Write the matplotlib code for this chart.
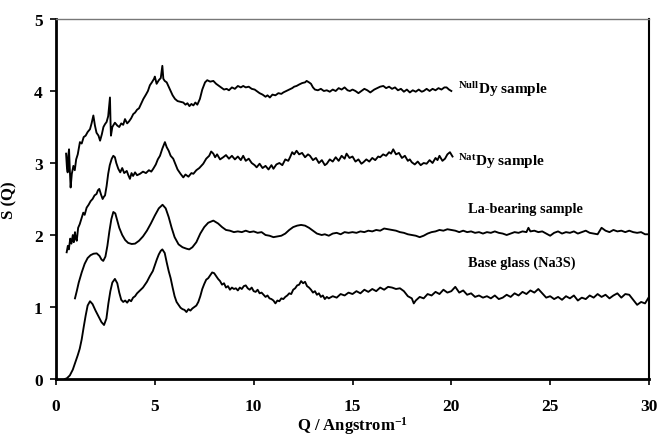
import matplotlib
matplotlib.use("Agg")
import matplotlib.pyplot as plt

plt.rcParams['font.family'] = ['Liberation Serif', 'DejaVu Serif']
plt.rcParams['font.weight'] = 'bold'
plt.rcParams['mathtext.fontset'] = 'custom'
plt.rcParams['mathtext.rm'] = 'Liberation Serif:bold'
plt.rcParams['mathtext.bf'] = 'Liberation Serif:bold'
plt.rcParams['mathtext.it'] = 'Liberation Serif:bold'

# ---------------- data ----------------
base_q = [0.45, 0.55, 0.7, 0.85, 1.0, 1.1, 1.2, 1.3, 1.4, 1.5, 1.6, 1.72, 1.85, 2.0, 2.15, 2.3, 2.43,
          2.55, 2.65, 2.75, 2.85, 2.98, 3.1, 3.2, 3.3, 3.4, 3.5, 3.6, 3.7, 3.8, 3.9, 4.0, 4.1, 4.25,
          4.4, 4.5, 4.6, 4.75, 4.9, 5.0, 5.1, 5.2, 5.3, 5.38, 5.5, 5.6, 5.7, 5.8, 5.9, 6.0, 6.1, 6.2,
          6.3, 6.4, 6.5, 6.6, 6.7, 6.8, 6.9, 7.0, 7.1, 7.2, 7.3, 7.4, 7.5, 7.6, 7.7, 7.8, 7.9, 8.0,
          8.1, 8.2, 8.3, 8.4, 8.5, 8.6, 8.7, 8.8, 8.9, 9.0, 9.1, 9.2, 9.3, 9.4, 9.5, 9.6, 9.7, 9.8,
          9.9, 10.0, 10.1, 10.2, 10.3, 10.4, 10.5, 10.6, 10.7, 10.8, 10.9, 11.0, 11.1, 11.2, 11.3,
          11.4, 11.5, 11.6, 11.7, 11.8, 11.9, 12.0, 12.1, 12.2, 12.3, 12.4, 12.5, 12.6, 12.7, 12.8,
          12.9, 13.0, 13.1, 13.2, 13.3, 13.4, 13.5, 13.6, 13.7, 13.8, 14.0, 14.2, 14.4, 14.6, 14.8,
          15.0, 15.2, 15.4, 15.6, 15.8, 16.0, 16.2, 16.4, 16.6, 16.8, 17.0, 17.2, 17.4, 17.6, 17.8,
          18.0, 18.1, 18.2, 18.4, 18.6, 18.8, 19.0, 19.2, 19.4, 19.6, 19.8, 20.0, 20.2, 20.4, 20.6,
          20.8, 21.0, 21.2, 21.4, 21.6, 21.8, 22.0, 22.2, 22.4, 22.6, 22.8, 23.0, 23.2, 23.4, 23.6,
          23.8, 24.0, 24.2, 24.4, 24.6, 24.8, 25.0, 25.2, 25.4, 25.6, 25.8, 26.0, 26.2, 26.4, 26.6,
          26.8, 27.0, 27.2, 27.4, 27.6, 27.8, 28.0, 28.2, 28.4, 28.6, 28.8, 29.0, 29.2, 29.4, 29.6,
          29.8, 30.0]
base_s = [0.0, 0.01, 0.05, 0.13, 0.25, 0.33, 0.42, 0.55, 0.72, 0.88, 1.02, 1.08, 1.04, 0.95, 0.87, 0.79, 0.75,
          0.84, 1.05, 1.22, 1.34, 1.39, 1.33, 1.2, 1.1, 1.07, 1.09, 1.06, 1.1, 1.08, 1.13, 1.15, 1.19, 1.23,
          1.27, 1.31, 1.35, 1.43, 1.5, 1.58, 1.66, 1.73, 1.78, 1.80, 1.75, 1.62, 1.5, 1.4, 1.27, 1.15, 1.07, 1.03,
          0.99, 0.97, 0.96, 0.93, 0.97, 0.95, 0.98, 1.0, 1.02, 1.07, 1.15, 1.25, 1.32, 1.38, 1.40, 1.44, 1.48, 1.47,
          1.43, 1.39, 1.36, 1.31, 1.33, 1.27, 1.29, 1.24, 1.27, 1.25, 1.26, 1.23, 1.27, 1.25, 1.29, 1.30, 1.26, 1.24,
          1.27, 1.22, 1.21, 1.24, 1.19, 1.2, 1.17, 1.14, 1.16, 1.12, 1.11, 1.09, 1.05, 1.09, 1.08,
          1.12, 1.11, 1.14, 1.16, 1.19, 1.18, 1.24, 1.26, 1.3, 1.31, 1.36, 1.33, 1.35, 1.29, 1.27,
          1.24, 1.2, 1.22, 1.17, 1.19, 1.14, 1.16, 1.11, 1.14, 1.12, 1.15, 1.13, 1.18, 1.16, 1.2,
          1.18, 1.22, 1.19, 1.24, 1.21, 1.25, 1.22, 1.27, 1.24, 1.28, 1.27, 1.25, 1.26, 1.22, 1.15,
          1.12, 1.05, 1.09, 1.14, 1.12, 1.18, 1.16, 1.21, 1.18, 1.24, 1.2, 1.22, 1.28, 1.2, 1.23,
          1.17, 1.19, 1.14, 1.16, 1.13, 1.15, 1.12, 1.16, 1.11, 1.13, 1.17, 1.14, 1.19, 1.16, 1.21,
          1.18, 1.23, 1.2, 1.25, 1.19, 1.13, 1.15, 1.11, 1.14, 1.1, 1.15, 1.12, 1.16, 1.09, 1.13,
          1.11, 1.16, 1.13, 1.18, 1.14, 1.17, 1.12, 1.16, 1.19, 1.13, 1.18, 1.17, 1.1, 1.03, 1.07,
          1.05, 1.14]

la_q = [0.96, 1.05, 1.15, 1.3, 1.45, 1.6, 1.75, 1.9, 2.06, 2.2, 2.3, 2.39, 2.5, 2.6, 2.7, 2.8, 2.9, 3.0,
        3.1, 3.2, 3.35, 3.5, 3.65, 3.83, 4.0, 4.2, 4.4, 4.6, 4.8, 5.0, 5.2, 5.39, 5.55, 5.7, 5.85, 6.0,
        6.2, 6.4, 6.6, 6.74, 6.9, 7.1, 7.3, 7.5, 7.7, 7.96, 8.2, 8.4, 8.6, 8.8, 9.0, 9.2, 9.4, 9.6, 9.8,
        10.0, 10.2, 10.4, 10.6, 10.8, 11.0, 11.2, 11.4, 11.6, 11.8, 12.0, 12.2, 12.4, 12.6, 12.8, 13.0,
        13.2, 13.44, 13.6, 13.8, 14.0, 14.2, 14.4, 14.6, 14.8, 15.0, 15.2, 15.4, 15.6, 15.8, 16.0, 16.2,
        16.4, 16.6, 16.8, 17.0, 17.2, 17.4, 17.6, 17.8, 18.0, 18.2, 18.4, 18.6, 18.8, 19.0, 19.2, 19.4,
        19.6, 19.8, 20.0, 20.2, 20.4, 20.6, 20.8, 21.0, 21.2, 21.4, 21.6, 21.8, 22.0, 22.2, 22.4, 22.6,
        22.8, 23.0, 23.2, 23.4, 23.6, 23.8, 23.9, 24.0, 24.2, 24.4, 24.6, 24.8, 25.0, 25.2, 25.4, 25.6,
        25.8, 26.0, 26.2, 26.4, 26.6, 26.8, 27.0, 27.2, 27.4, 27.6, 27.8, 28.0, 28.2, 28.4, 28.6, 28.8,
        29.0, 29.2, 29.4, 29.6, 29.8, 30.0]
la_s = [1.12, 1.22, 1.34, 1.48, 1.6, 1.68, 1.72, 1.74, 1.745, 1.71, 1.66, 1.64, 1.7, 1.85, 2.05, 2.22, 2.32, 2.3,
        2.2, 2.1, 2.0, 1.93, 1.89, 1.875, 1.88, 1.92, 1.98, 2.06, 2.16, 2.27, 2.37, 2.42, 2.37, 2.25, 2.1, 1.97,
        1.87, 1.83, 1.81, 1.80, 1.83, 1.9, 2.02, 2.11, 2.17, 2.2, 2.16, 2.11, 2.07, 2.06, 2.04, 2.05, 2.04, 2.06, 2.04,
        2.05, 2.03, 2.04, 2.0, 1.99, 1.97, 1.98, 1.99, 2.02, 2.07, 2.11, 2.13, 2.14, 2.13, 2.1, 2.06,
        2.02, 2.0, 2.01, 1.99, 2.02, 2.03, 2.01, 2.04, 2.03, 2.04, 2.03, 2.05, 2.04, 2.06, 2.05, 2.07,
        2.06, 2.09, 2.08, 2.07, 2.06, 2.04, 2.03, 2.01, 2.0, 1.99, 1.97, 1.99, 2.02, 2.04, 2.05, 2.07,
        2.06, 2.08, 2.07, 2.06, 2.04, 2.06, 2.04, 2.05, 2.03, 2.04, 2.02, 2.04, 2.03, 2.05, 2.03, 2.02,
        2.0, 2.02, 2.04, 2.03, 2.05, 2.04, 2.1, 2.05, 2.06, 2.04, 2.05, 2.02, 1.99, 2.03, 2.05, 2.02,
        2.04, 2.03, 2.05, 2.02, 2.04, 2.06, 2.03, 2.02, 2.01, 2.1, 2.06, 2.04, 2.07, 2.05, 2.06, 2.04,
        2.06, 2.04, 2.03, 2.04, 2.01, 2.01]

nat_q = [0.54, 0.6, 0.65, 0.72, 0.78, 0.85, 0.9, 0.96, 1.0, 1.05, 1.12, 1.2, 1.28, 1.38, 1.45, 1.55, 1.65,
         1.75, 1.85, 1.95, 2.05, 2.12, 2.19, 2.28, 2.36, 2.42, 2.48, 2.56, 2.64, 2.72, 2.82, 2.9, 2.98,
         3.05, 3.15, 3.25, 3.35, 3.45, 3.58, 3.66, 3.74, 3.82, 3.9, 4.0, 4.1, 4.25, 4.4, 4.55, 4.7, 4.82,
         4.92, 5.05, 5.15, 5.26, 5.38, 5.51, 5.6, 5.7, 5.8, 5.93, 6.05, 6.15, 6.3, 6.44, 6.55, 6.7, 6.85,
         6.95, 7.1, 7.25, 7.45, 7.6, 7.75, 7.85, 7.96, 8.05, 8.15, 8.3, 8.46, 8.6, 8.75, 8.9, 9.05, 9.2,
         9.35, 9.47, 9.6, 9.75, 9.9, 10.05, 10.15, 10.3, 10.45, 10.6, 10.75, 10.9, 11.0, 11.15, 11.3,
         11.45, 11.6, 11.75, 11.84, 11.95, 12.05, 12.17, 12.3, 12.45, 12.6, 12.75, 12.85, 13.0, 13.15,
         13.3, 13.45, 13.6, 13.7, 13.85, 14.0, 14.15, 14.3, 14.45, 14.6, 14.7, 14.85, 15.0, 15.15, 15.3,
         15.45, 15.55, 15.7, 15.85, 16.0, 16.15, 16.3, 16.4, 16.55, 16.7, 16.85, 16.95, 17.06, 17.2,
         17.35, 17.5, 17.65, 17.8, 17.9, 18.0, 18.15, 18.3, 18.45, 18.6, 18.75, 18.9, 19.05, 19.2, 19.3,
         19.4, 19.55, 19.68, 19.8, 19.93, 20.06]
nat_s = [1.76, 1.85, 1.8, 1.95, 1.88, 2.0, 1.9, 2.04, 1.95, 1.92, 2.1, 2.15, 2.22, 2.31, 2.28, 2.38, 2.42,
         2.47, 2.5, 2.55, 2.57, 2.62, 2.64, 2.56, 2.5, 2.53, 2.55, 2.68, 2.85, 2.97, 3.06, 3.1, 3.08,
         3.0, 2.92, 2.87, 2.93, 2.86, 2.89, 2.83, 2.78, 2.86, 2.82, 2.87, 2.83, 2.85, 2.88, 2.86, 2.9, 2.88,
         2.92, 2.98, 3.05, 3.1, 3.2, 3.29, 3.22, 3.17, 3.1, 3.06, 2.98, 2.91, 2.85, 2.8, 2.84, 2.81, 2.86,
         2.85, 2.9, 2.93, 2.99, 3.06, 3.1, 3.16, 3.13, 3.08, 3.12, 3.05, 3.08, 3.11, 3.06, 3.1, 3.05, 3.09,
         3.04, 3.1, 3.03, 3.06, 3.0, 2.97, 2.94, 2.99, 2.93, 2.96, 2.91, 2.97, 2.92, 2.98, 3.0,
         2.97, 3.05, 3.03, 3.08, 3.15, 3.12, 3.17, 3.12, 3.14, 3.08, 3.12, 3.1, 3.04, 3.07,
         3.0, 3.04, 2.97, 2.99, 3.05, 3.02, 3.08, 3.03, 3.1, 3.06, 3.13, 3.07, 3.09, 3.02, 3.05,
         2.99, 3.01, 3.05, 3.02, 3.07, 3.04, 3.09, 3.08, 3.12, 3.1, 3.15, 3.13, 3.19, 3.12,
         3.14, 3.07, 3.1, 3.03, 3.05, 3.01, 2.98, 3.02, 2.97, 3.0, 2.99, 3.04, 3.0, 3.07, 3.04,
         3.10, 3.03, 3.06, 3.12, 3.15, 3.09]

null_q = [0.51, 0.55, 0.59, 0.62, 0.66, 0.7, 0.74, 0.8, 0.88, 0.95, 1.02, 1.1, 1.21, 1.3, 1.4, 1.5, 1.6,
          1.72, 1.8, 1.89, 1.97, 2.05, 2.15, 2.23, 2.32, 2.4, 2.48, 2.56, 2.64, 2.7, 2.73, 2.76, 2.78,
          2.85, 2.98, 3.1, 3.2, 3.3, 3.4, 3.49, 3.6, 3.7, 3.8, 3.91, 4.0, 4.1, 4.2, 4.3, 4.42, 4.55,
          4.65, 4.75, 4.85, 4.96, 5.0, 5.09, 5.2, 5.3, 5.38, 5.43, 5.5, 5.6, 5.7, 5.8, 5.9, 6.02, 6.15,
          6.3, 6.44, 6.55, 6.65, 6.75, 6.85, 6.95, 7.05, 7.15, 7.28, 7.4, 7.54, 7.65, 7.8, 7.96, 8.1,
          8.2, 8.35, 8.5, 8.63, 8.75, 8.9, 9.05, 9.2, 9.35, 9.47, 9.6, 9.75, 9.9, 10.05, 10.15, 10.3,
          10.45, 10.6, 10.7, 10.82, 10.95, 11.1, 11.25, 11.4, 11.5, 11.65, 11.8, 11.95, 12.05, 12.17,
          12.3, 12.45, 12.6, 12.68, 12.8, 12.9, 13.0, 13.1, 13.25, 13.4, 13.55, 13.7, 13.85, 14.0,
          14.15, 14.3, 14.45, 14.6, 14.75, 14.87, 15.0, 15.15, 15.3, 15.45, 15.6, 15.75, 15.9, 16.1,
          16.25, 16.4, 16.56, 16.7, 16.85, 17.0, 17.15, 17.3, 17.45, 17.6, 17.75, 17.9, 18.05, 18.2,
          18.35, 18.5, 18.6, 18.75, 18.9, 19.05, 19.2, 19.35, 19.5, 19.65, 19.76, 19.88, 20.0]
null_s = [3.13, 2.95, 2.87, 3.1, 3.19, 2.9, 2.66, 2.85, 2.96, 2.9, 3.05, 3.12, 3.29, 3.27, 3.36, 3.38, 3.43,
          3.47, 3.55, 3.66, 3.52, 3.42, 3.38, 3.31, 3.4, 3.5, 3.54, 3.57, 3.65, 3.82, 3.91, 3.55, 3.38,
          3.5, 3.56, 3.52, 3.5, 3.55, 3.53, 3.61, 3.55, 3.58, 3.62, 3.68, 3.7, 3.74, 3.76, 3.82, 3.89, 3.95,
          4.0, 4.08, 4.12, 4.17, 4.2, 4.1, 4.15, 4.18, 4.35, 4.17, 4.14, 4.12, 4.06, 4.0, 3.94, 3.89, 3.86,
          3.85, 3.84, 3.81, 3.83, 3.79, 3.82, 3.8, 3.84, 3.81, 3.89, 4.02, 4.12, 4.15, 4.13, 4.14, 4.1,
          4.08, 4.05, 4.02, 4.03, 4.01, 4.05, 4.03, 4.07, 4.05, 4.07, 4.05, 4.06, 4.03, 4.02, 4.0, 3.97,
          3.95, 3.92, 3.94, 3.91, 3.95, 3.94, 3.97, 3.96, 3.98, 4.0, 4.02, 4.04, 4.06, 4.07,
          4.09, 4.11, 4.12, 4.14, 4.12, 4.1, 4.05, 4.02, 4.01, 4.03, 4.0, 4.01, 3.99, 4.02,
          4.0, 4.04, 4.02, 4.05, 4.01, 4.0, 4.02, 4.0, 3.97, 4.0, 4.03, 4.01, 3.98, 4.02,
          4.04, 4.06, 4.07, 4.04, 4.06, 4.03, 4.05, 4.01, 4.03, 3.99, 4.02, 3.98, 4.01, 3.99,
          4.02, 3.99, 4.0, 4.03, 4.0, 4.03, 4.01, 4.04, 4.02, 4.05, 4.05, 4.02, 4.0]

x_ticks = [0, 5, 10, 15, 20, 25, 30]
y_ticks = [0, 1, 2, 3, 4, 5]

# ---------------- figure ----------------
fig = plt.figure(figsize=(6.6, 4.39), dpi=100)
ax = fig.add_axes([56 / 660, 1 - 380 / 439, (649 - 56) / 660, 360 / 439])

for q, s in [(base_q, base_s), (la_q, la_s), (nat_q, nat_s), (null_q, null_s)]:
    ax.plot(q, s, color='black', lw=1.35)

ax.set_xlim(0, 30)
ax.set_ylim(0, 5)
ax.set_xticks(x_ticks)
ax.set_yticks(y_ticks)
ax.tick_params(direction='out', length=4.5, width=1.2, labelsize=12.5)
ax.tick_params(axis='x', pad=9)
ax.tick_params(axis='y', pad=5)
for lab in ax.get_xticklabels() + ax.get_yticklabels():
    lab.set_fontweight('bold')

ax.spines['left'].set_linewidth(2.0)
ax.spines['bottom'].set_linewidth(2.0)
ax.spines['top'].set_linewidth(1.0)
ax.spines['top'].set_color('#777777')
ax.spines['right'].set_linewidth(1.5)

ax.set_ylabel('S (Q)', fontsize=12, fontweight='bold', labelpad=12)
ax.set_xlabel(r'Q / Angstrom$^{\mathbf{-1}}$', fontsize=12, fontweight='bold', labelpad=0)

ax.text(20.35, 4.03, r'$^{\rm Null}$Dy sample', fontsize=11, fontweight='bold', va='center', ha='left')
ax.text(20.35, 3.03, r'$^{\rm Nat}$Dy sample', fontsize=11, fontweight='bold', va='center', ha='left')
ax.text(20.85, 2.37, 'La-bearing sample', fontsize=10.3, fontweight='bold', va='center', ha='left')
ax.text(20.85, 1.62, 'Base glass (Na3S)', fontsize=10.3, fontweight='bold', va='center', ha='left')

fig.savefig('out.png', dpi=100)
